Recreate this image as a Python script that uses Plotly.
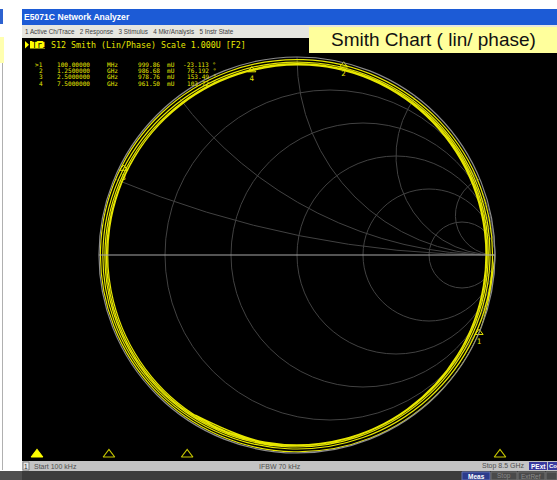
import numpy as np
import plotly.graph_objects as go

W, H = 557, 480

# ---------------- data (read / estimated from the picture) ----------------
freq_ghz = [0.0001,
            0.1, 0.2, 0.3, 0.4, 0.5, 0.6, 0.7, 0.8, 0.9, 1.0,
            1.1, 1.2, 1.3, 1.4, 1.5, 1.6, 1.7, 1.8, 1.9, 2.0,
            2.1, 2.2, 2.3, 2.4, 2.5, 2.6, 2.7, 2.8, 2.9, 3.0,
            3.1, 3.2, 3.3, 3.4, 3.5, 3.6, 3.7, 3.8, 3.9, 4.0,
            4.1, 4.2, 4.3, 4.4, 4.5, 4.6, 4.7, 4.8, 4.9, 5.0,
            5.1, 5.2, 5.3, 5.4, 5.5, 5.6, 5.7, 5.8, 5.9, 6.0,
            6.1, 6.2, 6.3, 6.4, 6.5, 6.6, 6.7, 6.8, 6.9, 7.0,
            7.1, 7.2, 7.3, 7.4, 7.5, 7.6, 7.7, 7.8, 7.9, 8.0,
            8.1, 8.2, 8.3, 8.4, 8.5]

s12_mag = [0.99990,
           0.99986, 0.9985, 0.9962, 0.9938, 0.9921, 0.9915, 0.9920, 0.9928, 0.9925, 0.9908,
           0.9885, 0.9870, 0.9866, 0.9872, 0.9878, 0.9873, 0.9852, 0.9826, 0.9804, 0.9796,
           0.9803, 0.9815, 0.9816, 0.9803, 0.9788, 0.9762, 0.9745, 0.9742, 0.9752, 0.9763,
           0.9762, 0.9745, 0.9720, 0.9698, 0.9690, 0.9699, 0.9716, 0.9726, 0.9718, 0.9696,
           0.9670, 0.9652, 0.9650, 0.9664, 0.9681, 0.9688, 0.9677, 0.9653, 0.9628, 0.9614,
           0.9618, 0.9636, 0.9654, 0.9657, 0.9642, 0.9616, 0.9592, 0.9581, 0.9589, 0.9608,
           0.9624, 0.9624, 0.9606, 0.9582, 0.9566, 0.9568, 0.9585, 0.9600, 0.9596, 0.9578,
           0.9561, 0.9560, 0.9577, 0.9601, 0.9615, 0.9612, 0.9594, 0.9569, 0.9548, 0.9540,
           0.9549, 0.9570, 0.9588, 0.9591, 0.9577]

s12_phase_deg = [-0.02,
                 -23.1, -45.7, -68.3, -90.9, -113.6, -136.2, -158.8, -181.4, -204.0, -226.6,
                 -249.2, -271.8, -294.4, -317.0, -339.7, -362.3, -384.9, -407.5, -430.1, -452.7,
                 -475.3, -497.9, -520.5, -543.1, -565.8, -588.4, -611.0, -633.6, -656.2, -678.8,
                 -701.4, -724.0, -746.6, -769.2, -791.9, -814.5, -837.1, -859.7, -882.3, -904.9,
                 -927.5, -950.1, -972.7, -995.3, -1018.0, -1040.6, -1063.2, -1085.8, -1108.4, -1131.0,
                 -1153.6, -1176.2, -1198.8, -1221.4, -1244.1, -1266.7, -1289.3, -1311.9, -1334.5, -1357.1,
                 -1379.7, -1402.3, -1424.9, -1447.5, -1470.2, -1492.8, -1515.4, -1538.0, -1560.6, -1583.2,
                 -1605.8, -1628.4, -1651.0, -1673.6, -1696.3, -1718.9, -1741.5, -1764.1, -1786.7, -1809.3,
                 -1831.9, -1854.5, -1877.1, -1899.7, -1922.4]

marker_ids = ["1", "2", "3", "4"]
marker_freq_ghz = [0.1, 1.25, 2.5, 7.5]
marker_freq_text = ["100.00000", "1.2500000", "2.5000000", "7.5000000"]
marker_freq_unit = ["MHz", "GHz", "GHz", "GHz"]
marker_mag = [0.99986, 0.98668, 0.97876, 0.96150]
marker_mag_text = ["999.86", "986.68", "978.76", "961.50"]
marker_phase_deg = [-23.113, 76.192, 153.49, 103.72]
marker_phase_text = ["-23.113", "76.192", "153.49", "103.72"]

smith_r_ticks = [0.2, 0.5, 1, 2, 5]
smith_x_ticks = [0.2, 0.5, 1, 2, 5]

# ---------------- helpers ----------------
def X(px):
    return px / W


def Y(py):
    return 1 - py / H


def to_z(mag, ph):
    g = np.asarray(mag) * np.exp(1j * np.deg2rad(np.asarray(ph)))
    z = (1 + g) / (1 - g)
    return z.real, z.imag


YEL = "#e6e600"

fig = go.Figure()

tr_re, tr_im = to_z(s12_mag, s12_phase_deg)
fig.add_trace(go.Scattersmith(
    real=tr_re, imag=tr_im, mode="lines",
    line=dict(color=YEL, width=1.2, shape="spline"),
    hoverinfo="skip", showlegend=False))

mk_re, mk_im = to_z(marker_mag, marker_phase_deg)
fig.add_trace(go.Scattersmith(
    real=mk_re, imag=mk_im, mode="markers+text",
    marker=dict(symbol="triangle-up-open", size=7, color=YEL, line=dict(width=1, color=YEL)),
    text=marker_ids, textposition="bottom center",
    textfont=dict(family="DejaVu Sans Mono", size=7.5, color=YEL),
    hoverinfo="skip", showlegend=False))

# frequency-axis marker indicators along the bottom edge
fig.add_trace(go.Scatter(
    x=marker_freq_ghz, y=[0.5] * 4, mode="markers",
    marker=dict(symbol=["triangle-up", "triangle-up-open", "triangle-up-open", "triangle-up-open"],
                size=10, color=["#ffff00", "#c8c800", "#c8c800", "#c8c800"],
                line=dict(width=1.2, color=["#ffff00", "#c8c800", "#c8c800", "#c8c800"])),
    hoverinfo="skip", showlegend=False, xaxis="x", yaxis="y"))

shapes = []


def rect(x0, y0, x1, y1, fill, line=None, layer="below"):
    shapes.append(dict(type="rect", xref="paper", yref="paper",
                       x0=X(x0), x1=X(x1), y0=Y(y1), y1=Y(y0),
                       fillcolor=fill, line=dict(width=0 if line is None else 1,
                                                 color=line or fill),
                       layer=layer))


# window chrome
rect(0, 0, 557, 480, "#ffffff")
rect(0, 9, 3, 24, "#2d62d0")
rect(0, 37, 4, 63, "#ffffb0")
rect(2, 63, 3, 470, "#b0b0b0")
rect(0, 471, 22, 480, "#505050")
rect(22, 9, 557, 25, "#1c5bd6")
rect(22, 25, 557, 38, "#e6e6e0")
rect(22, 38, 557, 461, "#000000")
rect(22, 461, 557, 471, "#c4c4c4")
rect(22, 471, 557, 480, "#3c3c3c")
rect(23, 462, 29, 470, "#e8e8e8", line="#808080", layer="above")
rect(529, 462, 547, 470, "#3a3aa0", layer="above")
rect(548, 462, 557, 470, "#3a3aa0", layer="above")
rect(462, 472, 490, 480, "#2c3c8c", line="#6070b0", layer="above")
rect(491, 472, 517, 480, "#4a4a4a", line="#707070", layer="above")
rect(518, 472, 545, 480, "#4a4a4a", line="#707070", layer="above")
rect(546, 472, 557, 480, "#4a4a4a", line="#707070", layer="above")
# annotation box
rect(309, 27, 557, 53, "#ffff9c", layer="above")
# Tr1 tag
rect(30, 41, 45, 48.5, "#ffff00", layer="above")
shapes.append(dict(type="path", xref="paper", yref="paper",
                   path=f"M {X(25)},{Y(41)} L {X(29)},{Y(44.7)} L {X(25)},{Y(48.5)} Z",
                   fillcolor="#ffff00", line=dict(width=0), layer="above"))

ann = []


def txt(px, py, s, size, color, family="Liberation Sans", xanchor="left"):
    ann.append(dict(x=X(px), y=Y(py), xref="paper", yref="paper", text=s,
                    showarrow=False, xanchor=xanchor, yanchor="middle", borderpad=0,
                    font=dict(size=size, color=color, family=family)))


MONO = "DejaVu Sans Mono"
txt(23, 17, "<b>E5071C Network Analyzer</b>", 8.6, "#ffffff")
txt(24, 31.5, "1 Active Ch/Trace   2 Response   3 Stimulus   4 Mkr/Analysis   5 Instr State",
    6.3, "#404040")
txt(433, 39.5, "Smith Chart ( lin/ phase)", 19, "#111111", xanchor="center")
txt(30.5, 44.8, "Tr1", 8.3, "#000000", family=MONO)
txt(50, 44.8, "S12 Smith (Lin/Phase) Scale 1.000U [F2]", 8.3, YEL, family=MONO)

row_y = [64.2, 70.5, 76.8, 83.1]
FS = 6.1
for i in range(4):
    y = row_y[i]
    txt(43.5, y, (">" if i == 0 else "") + marker_ids[i], FS, YEL, family=MONO, xanchor="right")
    txt(56, y, marker_freq_text[i], FS, YEL, family=MONO)
    txt(106, y, marker_freq_unit[i], FS, YEL, family=MONO)
    txt(161, y, marker_mag_text[i], FS, YEL, family=MONO, xanchor="right")
    txt(166, y, "mU", FS, YEL, family=MONO)
    txt(217, y, marker_phase_text[i] + " °", FS, YEL, family=MONO, xanchor="right")

txt(26, 466, "1", 6.5, "#303030", xanchor="center")
txt(33, 466, "Start 100 kHz", 7, "#505050")
txt(280, 466, "IFBW 70 kHz", 7, "#505050", xanchor="center")
txt(526, 466, "Stop 8.5 GHz", 7, "#505050", xanchor="right")
txt(538, 466, "<b>PExt</b>", 6.5, "#ffffff", xanchor="center")
txt(552.5, 466, "<b>Co</b>", 6, "#ffffff", xanchor="center")
txt(476, 476, "<b>Meas</b>", 6.5, "#ffffff", xanchor="center")
txt(504, 476, "Stop", 6.5, "#8a8a8a", xanchor="center")
txt(531, 476, "ExtRef", 6.5, "#8a8a8a", xanchor="center")

px_per_ghz = (500 - 37) / (7.5 - 0.1)
f0_px = 37 - 0.1 * px_per_ghz

fig.update_layout(
    width=W, height=H,
    margin=dict(l=0, r=0, t=0, b=0),
    paper_bgcolor="#ffffff",
    plot_bgcolor="rgba(0,0,0,0)",
    shapes=shapes,
    annotations=ann,
    showlegend=False,
    xaxis=dict(domain=[0, 1], range=[-f0_px / px_per_ghz, (W - f0_px) / px_per_ghz],
               visible=False, fixedrange=True),
    yaxis=dict(domain=[Y(461), Y(448)], range=[0, 1], visible=False, fixedrange=True),
    smith=dict(
        domain=dict(x=[X(99), X(495)], y=[Y(453), Y(57)]),
        bgcolor="#000000",
        realaxis=dict(tickvals=smith_r_ticks, showgrid=True, gridcolor="#424242", gridwidth=1,
                      showline=True, linecolor="#a8a8a8", linewidth=1.2,
                      showticklabels=False, ticks=""),
        imaginaryaxis=dict(tickvals=smith_x_ticks, showgrid=True, gridcolor="#424242", gridwidth=1,
                           showline=True, linecolor="#8c8c8c", linewidth=1.2,
                           showticklabels=False, ticks=""),
    ),
)

fig.write_html("out.html", config={"displayModeBar": False},
               post_script="document.body.style.margin='0px';")
